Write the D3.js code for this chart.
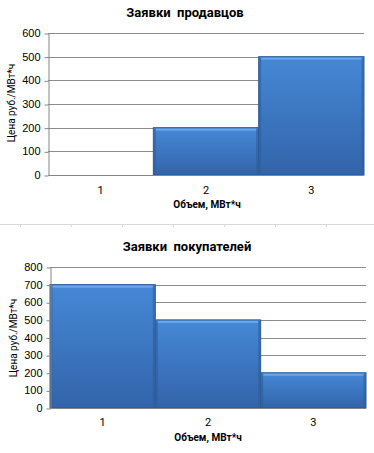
<!DOCTYPE html>
<html>
<head>
<meta charset="utf-8">
<script src="https://cdn.jsdelivr.net/npm/d3@7"></script>
<style>
  body { margin: 0; background: #fff; }
  svg { display: block; font-family: Roboto, "Open Sans", sans-serif; }
  .grid line { stroke: #8c8c8c; stroke-width: 1; }
  .axis path, .axis line { stroke: #868686; }
  .axis text { font-size: 11px; fill: #000; }
</style>
</head>
<body>
<svg width="374" height="453"></svg>
<script>
const categories = ["1", "2", "3"];
const sellerPrices = [0, 200, 500];
const buyerPrices = [700, 500, 200];
const sellerTicks = [0, 100, 200, 300, 400, 500, 600];
const buyerTicks = [0, 100, 200, 300, 400, 500, 600, 700, 800];
const sheetCols = [20, 71, 122, 173, 224, 275, 326];

const svg = d3.select("svg");

let defs = svg.append("defs");
let grad = defs.append("linearGradient")
  .attr("id", "barFill")
  .attr("x1", 0).attr("y1", 0).attr("x2", 0).attr("y2", 1);
grad.append("stop").attr("offset", "0%").attr("stop-color", "#4688d6");
grad.append("stop").attr("offset", "100%").attr("stop-color", "#3264aa");

// faint spreadsheet cell border between the two charts
svg.append("line")
  .attr("x1", 0).attr("x2", 374)
  .attr("y1", 224.5).attr("y2", 224.5)
  .style("stroke", "#d9d9d9");
svg.selectAll(".cell")
  .data(sheetCols)
  .enter()
  .append("line")
  .attr("x1", d => d + 0.5).attr("x2", d => d + 0.5)
  .attr("y1", 225).attr("y2", 227)
  .style("stroke", "#d9d9d9");

function drawChart(opt) {
  let g = svg.append("g");
  let x = d3.scaleBand().domain(categories).range([opt.left, opt.right]).padding(0);
  let y = d3.scaleLinear().domain([0, d3.max(opt.ticks)]).range([opt.bottom, opt.top]);

  g.append("text")
    .attr("x", opt.titleX)
    .attr("y", opt.titleY)
    .attr("text-anchor", "middle")
    .style("font-size", "13px")
    .style("font-weight", "bold")
    .style("white-space", "pre")
    .text(opt.title);

  g.append("g")
    .attr("class", "grid")
    .selectAll("line")
    .data(opt.ticks.filter(t => t > 0))
    .enter()
    .append("line")
    .attr("x1", opt.left)
    .attr("x2", opt.right)
    .attr("y1", d => Math.round(y(d)) + 0.5)
    .attr("y2", d => Math.round(y(d)) + 0.5);

  let bars = g.selectAll(".bar")
    .data(opt.values.map((v, i) => ({ cat: categories[i], value: v })).filter(d => d.value > 0))
    .enter()
    .append("g")
    .attr("class", "bar");

  bars.append("rect")
    .attr("x", d => x(d.cat))
    .attr("y", d => y(d.value))
    .attr("width", x.bandwidth())
    .attr("height", d => opt.bottom - y(d.value))
    .style("fill", "url(#barFill)")
    .style("stroke", "#2d5b97")
    .style("stroke-width", 1);

  // bevel highlight along the top
  bars.append("rect")
    .attr("x", d => x(d.cat) + 2)
    .attr("y", d => y(d.value) + 1)
    .attr("width", x.bandwidth() - 4)
    .attr("height", 2)
    .style("fill", "#6aa8ee");

  // darker side edges
  bars.append("rect")
    .attr("x", d => x(d.cat) + 0.5)
    .attr("y", d => y(d.value) + 1)
    .attr("width", 2)
    .attr("height", d => opt.bottom - y(d.value) - 1)
    .style("fill", "#2f5d99")
    .style("opacity", 0.6);
  bars.append("rect")
    .attr("x", d => x(d.cat) + x.bandwidth() - 2.5)
    .attr("y", d => y(d.value) + 1)
    .attr("width", 2)
    .attr("height", d => opt.bottom - y(d.value) - 1)
    .style("fill", "#2f5d99")
    .style("opacity", 0.6);

  g.append("g")
    .attr("class", "axis axis-y")
    .attr("transform", "translate(" + (opt.left + 0.5) + ",0)")
    .call(d3.axisLeft(y).tickValues(opt.ticks).tickSize(4).tickSizeOuter(0).tickPadding(4))
    .call(a => a.selectAll(".tick line").attr("transform", "translate(0,0.5)"));

  g.append("line")
    .attr("x1", opt.left)
    .attr("x2", opt.right)
    .attr("y1", opt.bottom + 0.5)
    .attr("y2", opt.bottom + 0.5)
    .style("stroke", "#868686");

  g.selectAll(".cat")
    .data(categories)
    .enter()
    .append("text")
    .attr("x", d => x(d) + x.bandwidth() / 2)
    .attr("y", opt.catY)
    .attr("text-anchor", "middle")
    .style("font-size", "11px")
    .text(d => d);

  g.append("text")
    .attr("x", opt.xTitleX)
    .attr("y", opt.xTitleY)
    .attr("text-anchor", "middle")
    .style("font-size", "10px")
    .style("font-weight", "bold")
    .text("Объем, МВт*ч");

  g.append("text")
    .attr("transform", "translate(" + opt.yTitleX + "," + opt.yTitleY + ") rotate(-90)")
    .attr("text-anchor", "middle")
    .style("font-size", "10px")
    .text("Цена руб./МВт*ч");
}

drawChart({
  title: "Заявки  продавцов",
  values: sellerPrices,
  ticks: sellerTicks,
  left: 48, right: 364, top: 33, bottom: 175,
  titleX: 185, titleY: 17,
  catY: 194, xTitleX: 207, xTitleY: 208,
  yTitleX: 15, yTitleY: 103
});

drawChart({
  title: "Заявки  покупателей",
  values: buyerPrices,
  ticks: buyerTicks,
  left: 50, right: 366, top: 267, bottom: 408,
  titleX: 187, titleY: 251,
  catY: 426, xTitleX: 208, xTitleY: 441,
  yTitleX: 17, yTitleY: 338
});
</script>
</body>
</html>
